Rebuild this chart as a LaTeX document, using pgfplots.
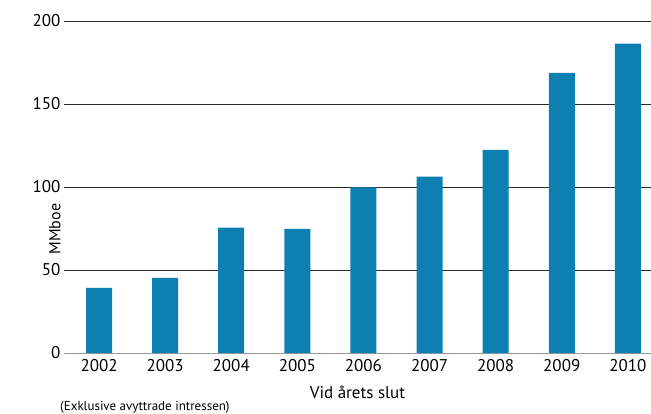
\documentclass[border=0pt]{standalone}
\usepackage{pgfplots}
\pgfplotsset{compat=1.18}
\usepackage{fontspec}
\setmainfont{PT Sans}
\definecolor{barblue}{HTML}{0E7FB1}
\definecolor{gridgray}{HTML}{2B2B2B}
\begin{document}
\begin{tikzpicture}[x=1bp,y=1bp]
\begin{axis}[
  at={(0,0)}, anchor=south west,
  scale only axis,
  width=587bp, height=332bp,
  xmin=-0.53, xmax=8.35,
  ymin=0, ymax=200,
  ytick={0,50,100,150,200},
  xtick={0,...,8},
  xticklabels={2002,2003,2004,2005,2006,2007,2008,2009,2010},
  axis x line*=bottom,
  axis y line*=left,
  y axis line style={draw=none},
  x axis line style={draw=gray!80, line width=1bp, -},
  major tick length=0pt,
  ymajorgrids,
  grid style={draw=gridgray, line width=0.9bp},
  yticklabel style={font=\fontsize{17bp}{20bp}\selectfont, anchor=east, xshift=0bp},
  xticklabel style={font=\fontsize{17bp}{20bp}\selectfont, anchor=north, yshift=-3bp},
  /pgf/number format/assume math mode=true,
  ylabel={MMboe},
  ylabel style={font=\fontsize{16bp}{19bp}\selectfont, at={(rel axis cs:0,0.5)}, anchor=south, rotate=0, xshift=-42bp},
  xlabel={Vid årets slut},
  xlabel style={font=\fontsize{17bp}{20bp}\selectfont, at={(rel axis cs:0.5,0)}, anchor=center, yshift=-39bp},
  clip=false,
]
\addplot[ybar, bar width=26bp, fill=barblue, draw=none] coordinates {
  (0,39.2) (1,45.2) (2,75.5) (3,74.8) (4,99.8) (5,106.2) (6,122.3) (7,168.7) (8,186.3)
};
\node[anchor=west, font=\fontsize{13bp}{15bp}\selectfont, inner sep=0pt]
  at ([xshift=-4bp, yshift=-54bp]rel axis cs:0,0) {(Exklusive avyttrade intressen)};
\end{axis}
\pgfresetboundingbox
\path (-64bp,-61bp) rectangle (587bp,353bp);
\end{tikzpicture}
\end{document}
